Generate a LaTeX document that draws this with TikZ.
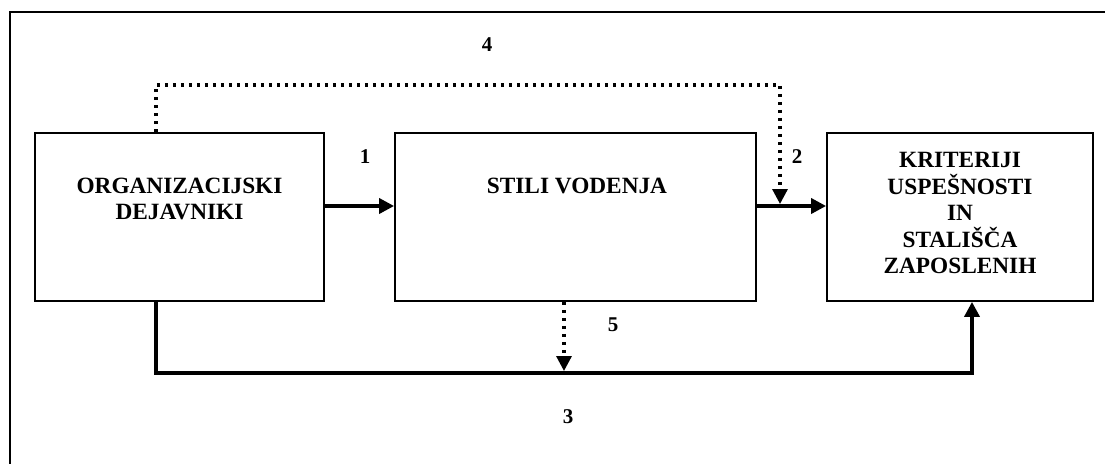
\documentclass[tikz,border=0pt]{standalone}
\usepackage{fontspec}
\setmainfont{Liberation Serif}
\usetikzlibrary{arrows.meta}
\tikzset{
  box/.style={draw, line width=1.8pt, rectangle, inner sep=0pt},
  lbl/.style={font=\fontsize{23.3}{26.5}\selectfont\bfseries, align=center, inner sep=0pt},
  num/.style={font=\fontsize{21}{24}\selectfont\bfseries, inner sep=0pt},
  conn/.style={line width=3.6pt, -{Triangle[length=15pt,width=15pt]}},
  dotconn/.style={line width=3.2pt, dash pattern=on 3.2pt off 4.8pt, -{Triangle[length=15pt,width=15pt]}},
  frame/.style={line width=2.2pt}
}
\begin{document}
\begin{tikzpicture}[x=1pt,y=-1pt]
\useasboundingbox (0,0) rectangle (1105,464);
\draw[frame] (1105,12) -- (10,12) -- (10,464);

\node[box, minimum width=289pt, minimum height=168pt] (lbox) at (179.5,217) {};
\node[box, minimum width=361pt, minimum height=168pt] (mbox) at (575.5,217) {};
\node[box, minimum width=266pt, minimum height=168pt] (rbox) at (960,217) {};

\node[lbl] (ltxt) at (179.5,199) {ORGANIZACIJSKI\\DEJAVNIKI};
\node[lbl] (mtxt) at (577,186) {STILI VODENJA};
\node[lbl] (rtxt) at (960,213) {KRITERIJI\\USPEŠNOSTI\\IN\\STALIŠČA\\ZAPOSLENIH};

\node[num] (n1) at (365,157) {1};
\node[num] (n2) at (797,157) {2};
\node[num] (n3) at (568,417) {3};
\node[num] (n4) at (487,45) {4};
\node[num] (n5) at (613,325) {5};

\coordinate (c3a) at (156,373);
\coordinate (c3b) at (972,373);
\coordinate (c4a) at (156,85);
\coordinate (c4b) at (780,85);
\coordinate (c4c) at (780,204);
\coordinate (c5a) at (564,301);
\coordinate (c5b) at (564,371);

\draw[conn] ([yshift=11pt]lbox.east) -- ([yshift=11pt]mbox.west);
\draw[conn] ([yshift=11pt]mbox.east) -- ([yshift=11pt]rbox.west);
\draw[conn] (lbox.south -| c3a) -- (c3a) -- (c3b) -- (rbox.south -| c3b);
\draw[dotconn] (lbox.north -| c4a) -- (c4a) -- (c4b) -- (c4c);
\draw[dotconn] (mbox.south -| c5a) -- (c5b);
\end{tikzpicture}
\end{document}
